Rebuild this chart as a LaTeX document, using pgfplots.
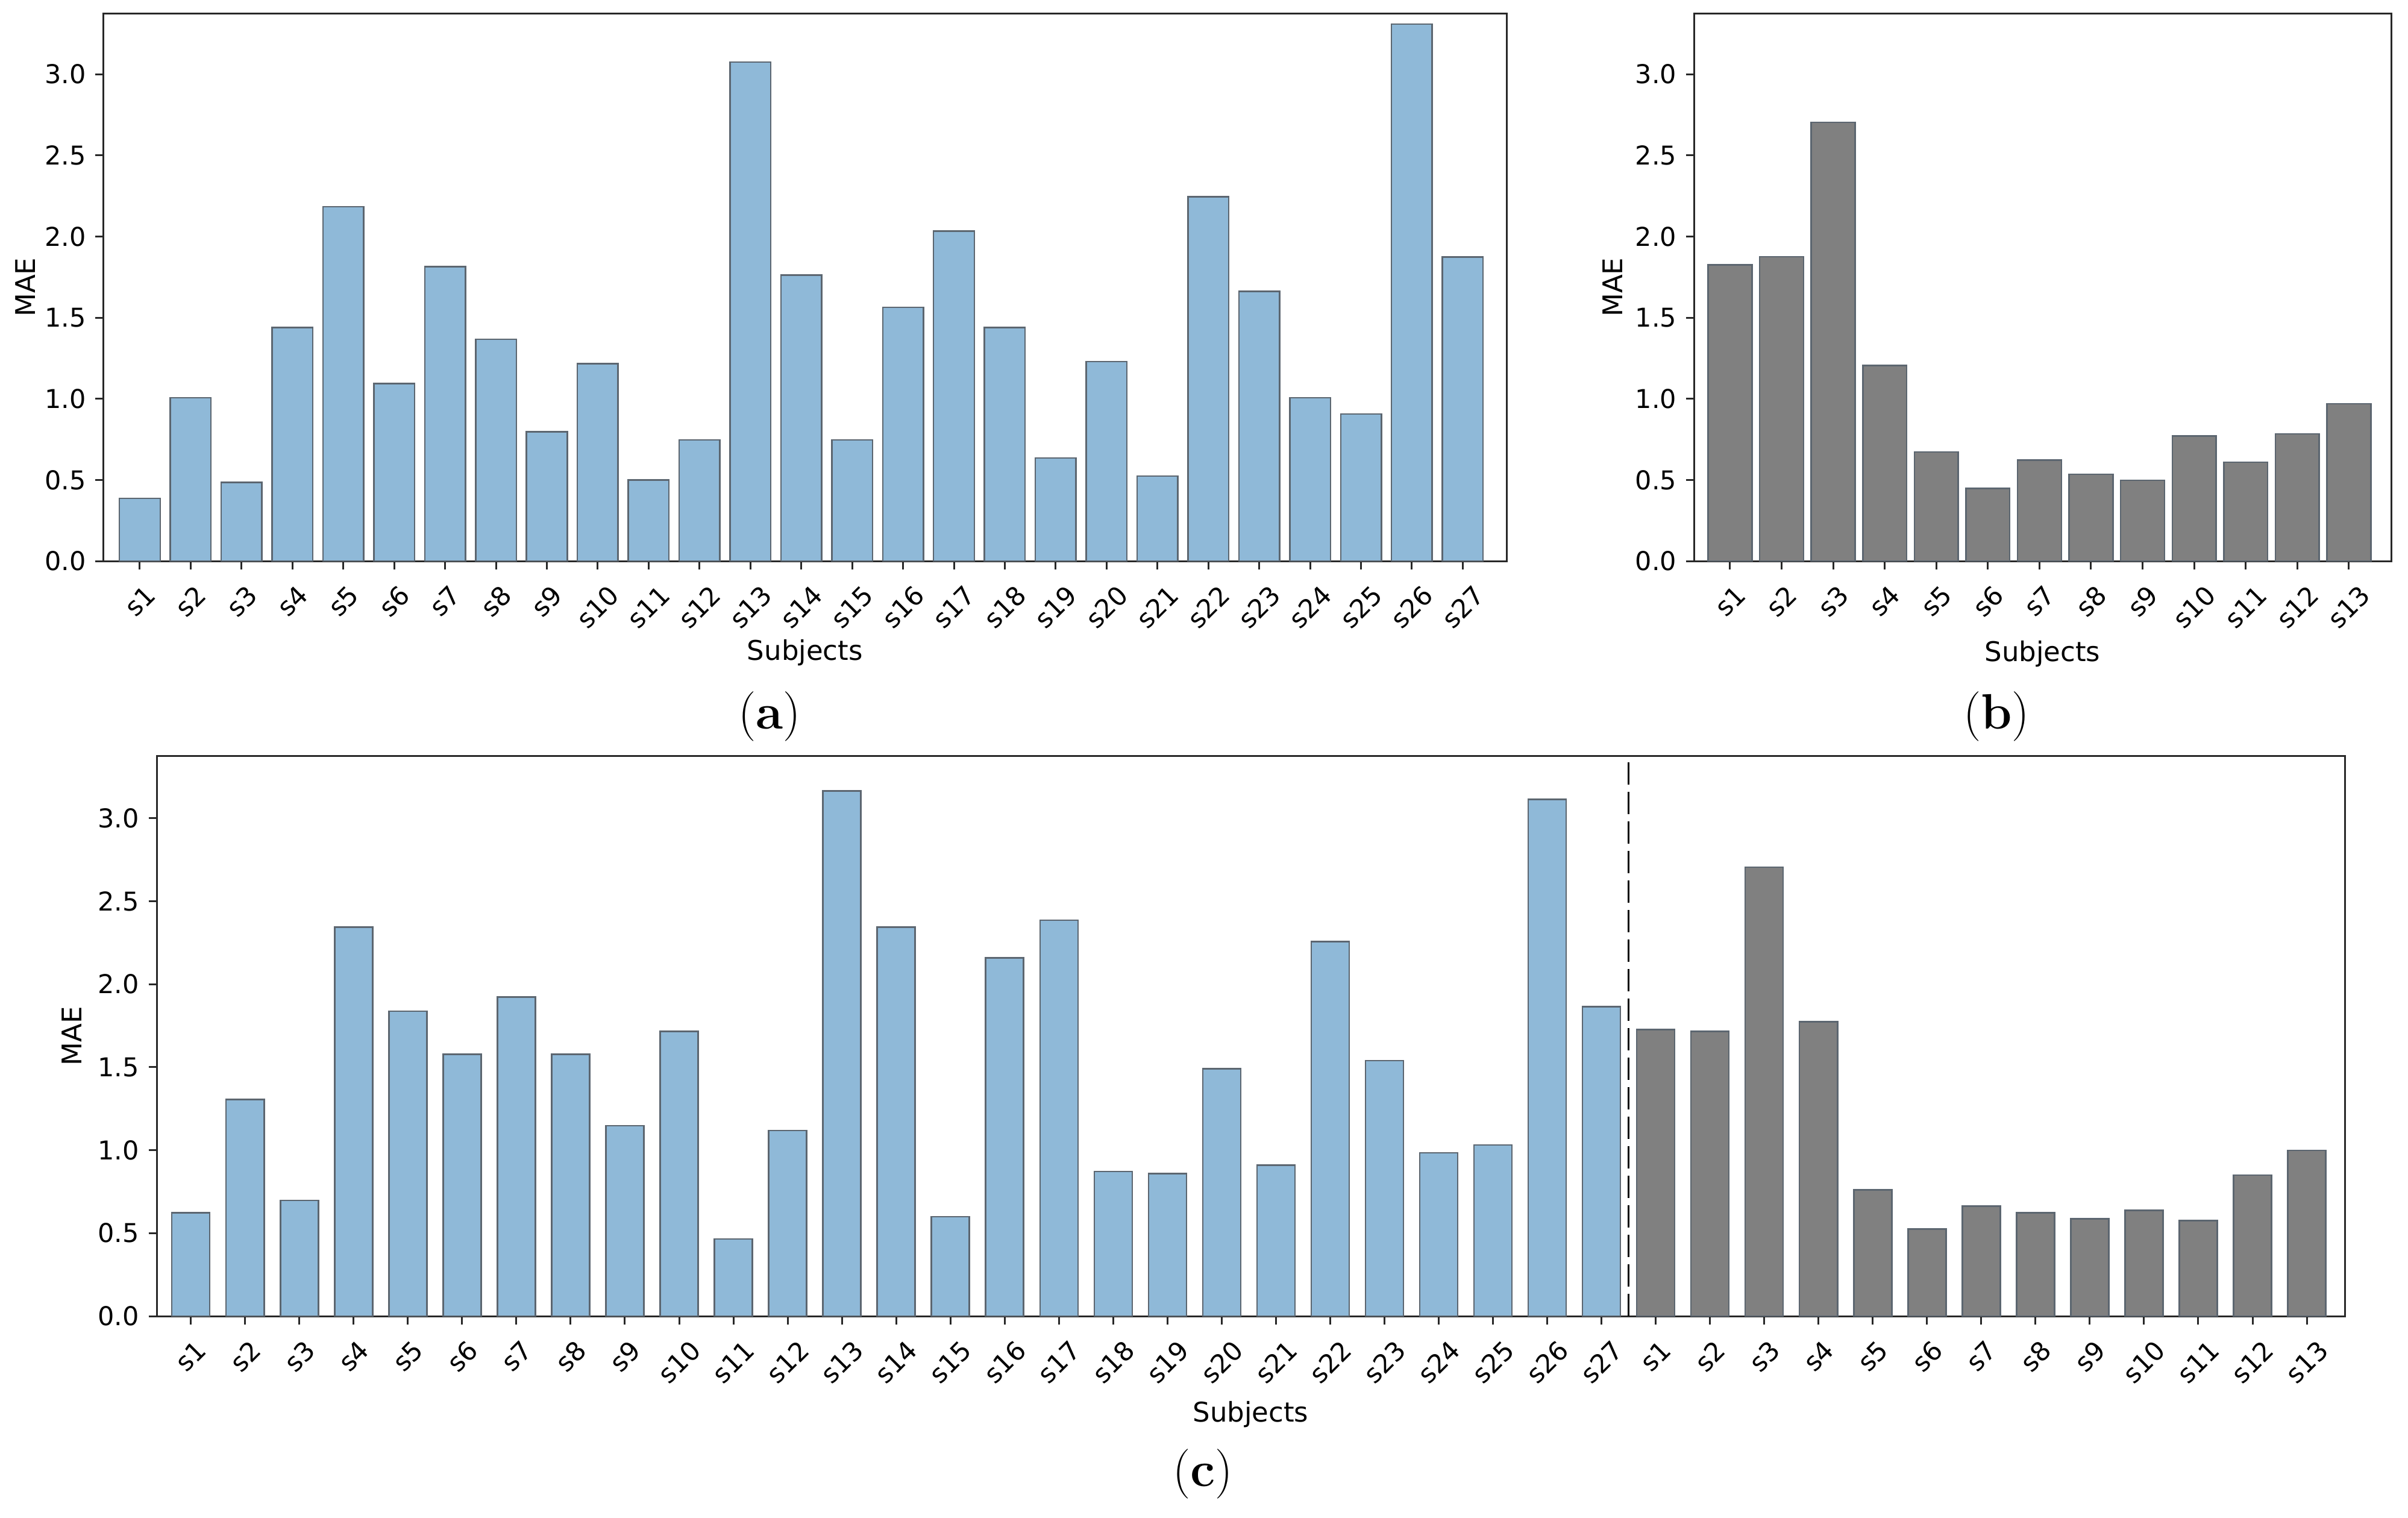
\documentclass[border=0pt]{standalone}
\usepackage{pgfplots}
\pgfplotsset{compat=1.18}
\usepackage{graphicx}
\usepackage{fontspec}
\setsansfont{DejaVu Sans}

\definecolor{barblue}{RGB}{143,185,216}
\definecolor{bargrey}{RGB}{128,128,128}
\definecolor{baredge}{RGB}{92,102,112}
\definecolor{framec}{RGB}{40,40,40}

\newcommand{\R}[1]{\rotatebox{45}{#1}}

\pgfplotsset{
  maestyle/.style={
    scale only axis,
    ybar,
    ymin=0, ymax=3.375,
    axis line style={framec, line width=0.6pt},
    tick style={framec, line width=0.6pt},
    major tick length=2.7pt,
    tick align=outside,
    xtick pos=bottom, ytick pos=left,
    ytick={0,0.5,1,1.5,2,2.5,3},
    yticklabels={0.0,0.5,1.0,1.5,2.0,2.5,3.0},
    ticklabel style={font=\sffamily\fontsize{8.6}{10}\selectfont},
    xticklabel style={anchor=north, inner sep=0pt, yshift=-4.6pt},
    yticklabel style={anchor=east, inner sep=0pt, xshift=-2.9pt},
    label style={font=\sffamily\fontsize{9}{11}\selectfont},
    ylabel={MAE},
    xlabel={Subjects},
    clip=false,
  },
  blueb/.style={fill=barblue, draw=baredge, line width=0.5pt, bar shift=0pt},
  greyb/.style={fill=bargrey, draw=baredge, line width=0.5pt, bar shift=0pt},
}

\begin{document}
\begin{tikzpicture}
\useasboundingbox (0,0) rectangle (799.2pt,-503.6pt);

% (a)
\begin{axis}[maestyle,
  at={(34.32pt,-186.2pt)}, anchor=south west,
  width=465.68pt, height=181.74pt,
  xmin=-0.715, xmax=26.86,
  bar width=0.8,
  xtick={0,...,26},
  xticklabels={\R{s1},\R{s2},\R{s3},\R{s4},\R{s5},\R{s6},\R{s7},\R{s8},\R{s9},\R{s10},\R{s11},\R{s12},\R{s13},\R{s14},\R{s15},\R{s16},\R{s17},\R{s18},\R{s19},\R{s20},\R{s21},\R{s22},\R{s23},\R{s24},\R{s25},\R{s26},\R{s27}},
  ylabel style={at={(axis description cs:-0.0558,0.5)}, anchor=center},
  xlabel style={at={(axis description cs:0.5,-0.1673)}, anchor=center},
]
\addplot[blueb] coordinates {
(0,0.386) (1,1.006) (2,0.485) (3,1.440) (4,2.183) (5,1.094) (6,1.814)
(7,1.366) (8,0.796) (9,1.217) (10,0.500) (11,0.746) (12,3.076) (13,1.762)
(14,0.746) (15,1.563) (16,2.034) (17,1.440) (18,0.635) (19,1.229) (20,0.523)
(21,2.245) (22,1.662) (23,1.006) (24,0.907) (25,3.310) (26,1.873)};
\end{axis}

% (b)
\begin{axis}[maestyle,
  at={(562.2pt,-186.2pt)}, anchor=south west,
  width=231.4pt, height=181.74pt,
  xmin=-0.70, xmax=12.82,
  bar width=0.85,
  xtick={0,...,12},
  xticklabels={\R{s1},\R{s2},\R{s3},\R{s4},\R{s5},\R{s6},\R{s7},\R{s8},\R{s9},\R{s10},\R{s11},\R{s12},\R{s13}},
  ylabel style={at={(axis description cs:-0.1167,0.5)}, anchor=center},
  xlabel style={at={(axis description cs:0.5,-0.1695)}, anchor=center},
]
\addplot[greyb] coordinates {
(0,1.826) (1,1.875) (2,2.704) (3,1.205) (4,0.673) (5,0.448) (6,0.623)
(7,0.535) (8,0.497) (9,0.770) (10,0.609) (11,0.784) (12,0.969)};
\end{axis}

% (c)
\begin{axis}[maestyle,
  at={(52pt,-436.8pt)}, anchor=south west,
  width=726.2pt, height=185.9pt,
  xmin=-0.63, xmax=39.70,
  bar width=0.7,
  xtick={0,...,39},
  xticklabels={\R{s1},\R{s2},\R{s3},\R{s4},\R{s5},\R{s6},\R{s7},\R{s8},\R{s9},\R{s10},\R{s11},\R{s12},\R{s13},\R{s14},\R{s15},\R{s16},\R{s17},\R{s18},\R{s19},\R{s20},\R{s21},\R{s22},\R{s23},\R{s24},\R{s25},\R{s26},\R{s27},\R{s1},\R{s2},\R{s3},\R{s4},\R{s5},\R{s6},\R{s7},\R{s8},\R{s9},\R{s10},\R{s11},\R{s12},\R{s13}},
  ylabel style={at={(axis description cs:-0.0388,0.5)}, anchor=center},
  xlabel style={at={(axis description cs:0.5,-0.1754)}, anchor=center},
]
\addplot[blueb] coordinates {
(0,0.623) (1,1.306) (2,0.698) (3,2.344) (4,1.837) (5,1.578) (6,1.923)
(7,1.578) (8,1.148) (9,1.715) (10,0.465) (11,1.118) (12,3.164) (13,2.344)
(14,0.599) (15,2.159) (16,2.386) (17,0.871) (18,0.859) (19,1.491) (20,0.910)
(21,2.257) (22,1.539) (23,0.984) (24,1.032) (25,3.113) (26,1.864)};
\addplot[greyb] coordinates {
(27,1.727) (28,1.715) (29,2.705) (30,1.774) (31,0.760) (32,0.525) (33,0.662)
(34,0.623) (35,0.587) (36,0.638) (37,0.576) (38,0.850) (39,0.999)};
\draw[black, line width=0.67pt, dash pattern=on 7.4pt off 2.4pt]
  (axis cs:26.5,0) -- (axis cs:26.5,3.375);
\end{axis}

% captions
\node[font=\fontsize{16.5}{18}\selectfont] at (255.4pt,-237.8pt) {(\textbf{a})};
\node[font=\fontsize{16.5}{18}\selectfont] at (662.6pt,-237.8pt) {(\textbf{b})};
\node[font=\fontsize{16.5}{18}\selectfont] at (399.2pt,-489.2pt) {(\textbf{c})};
\end{tikzpicture}
\end{document}
